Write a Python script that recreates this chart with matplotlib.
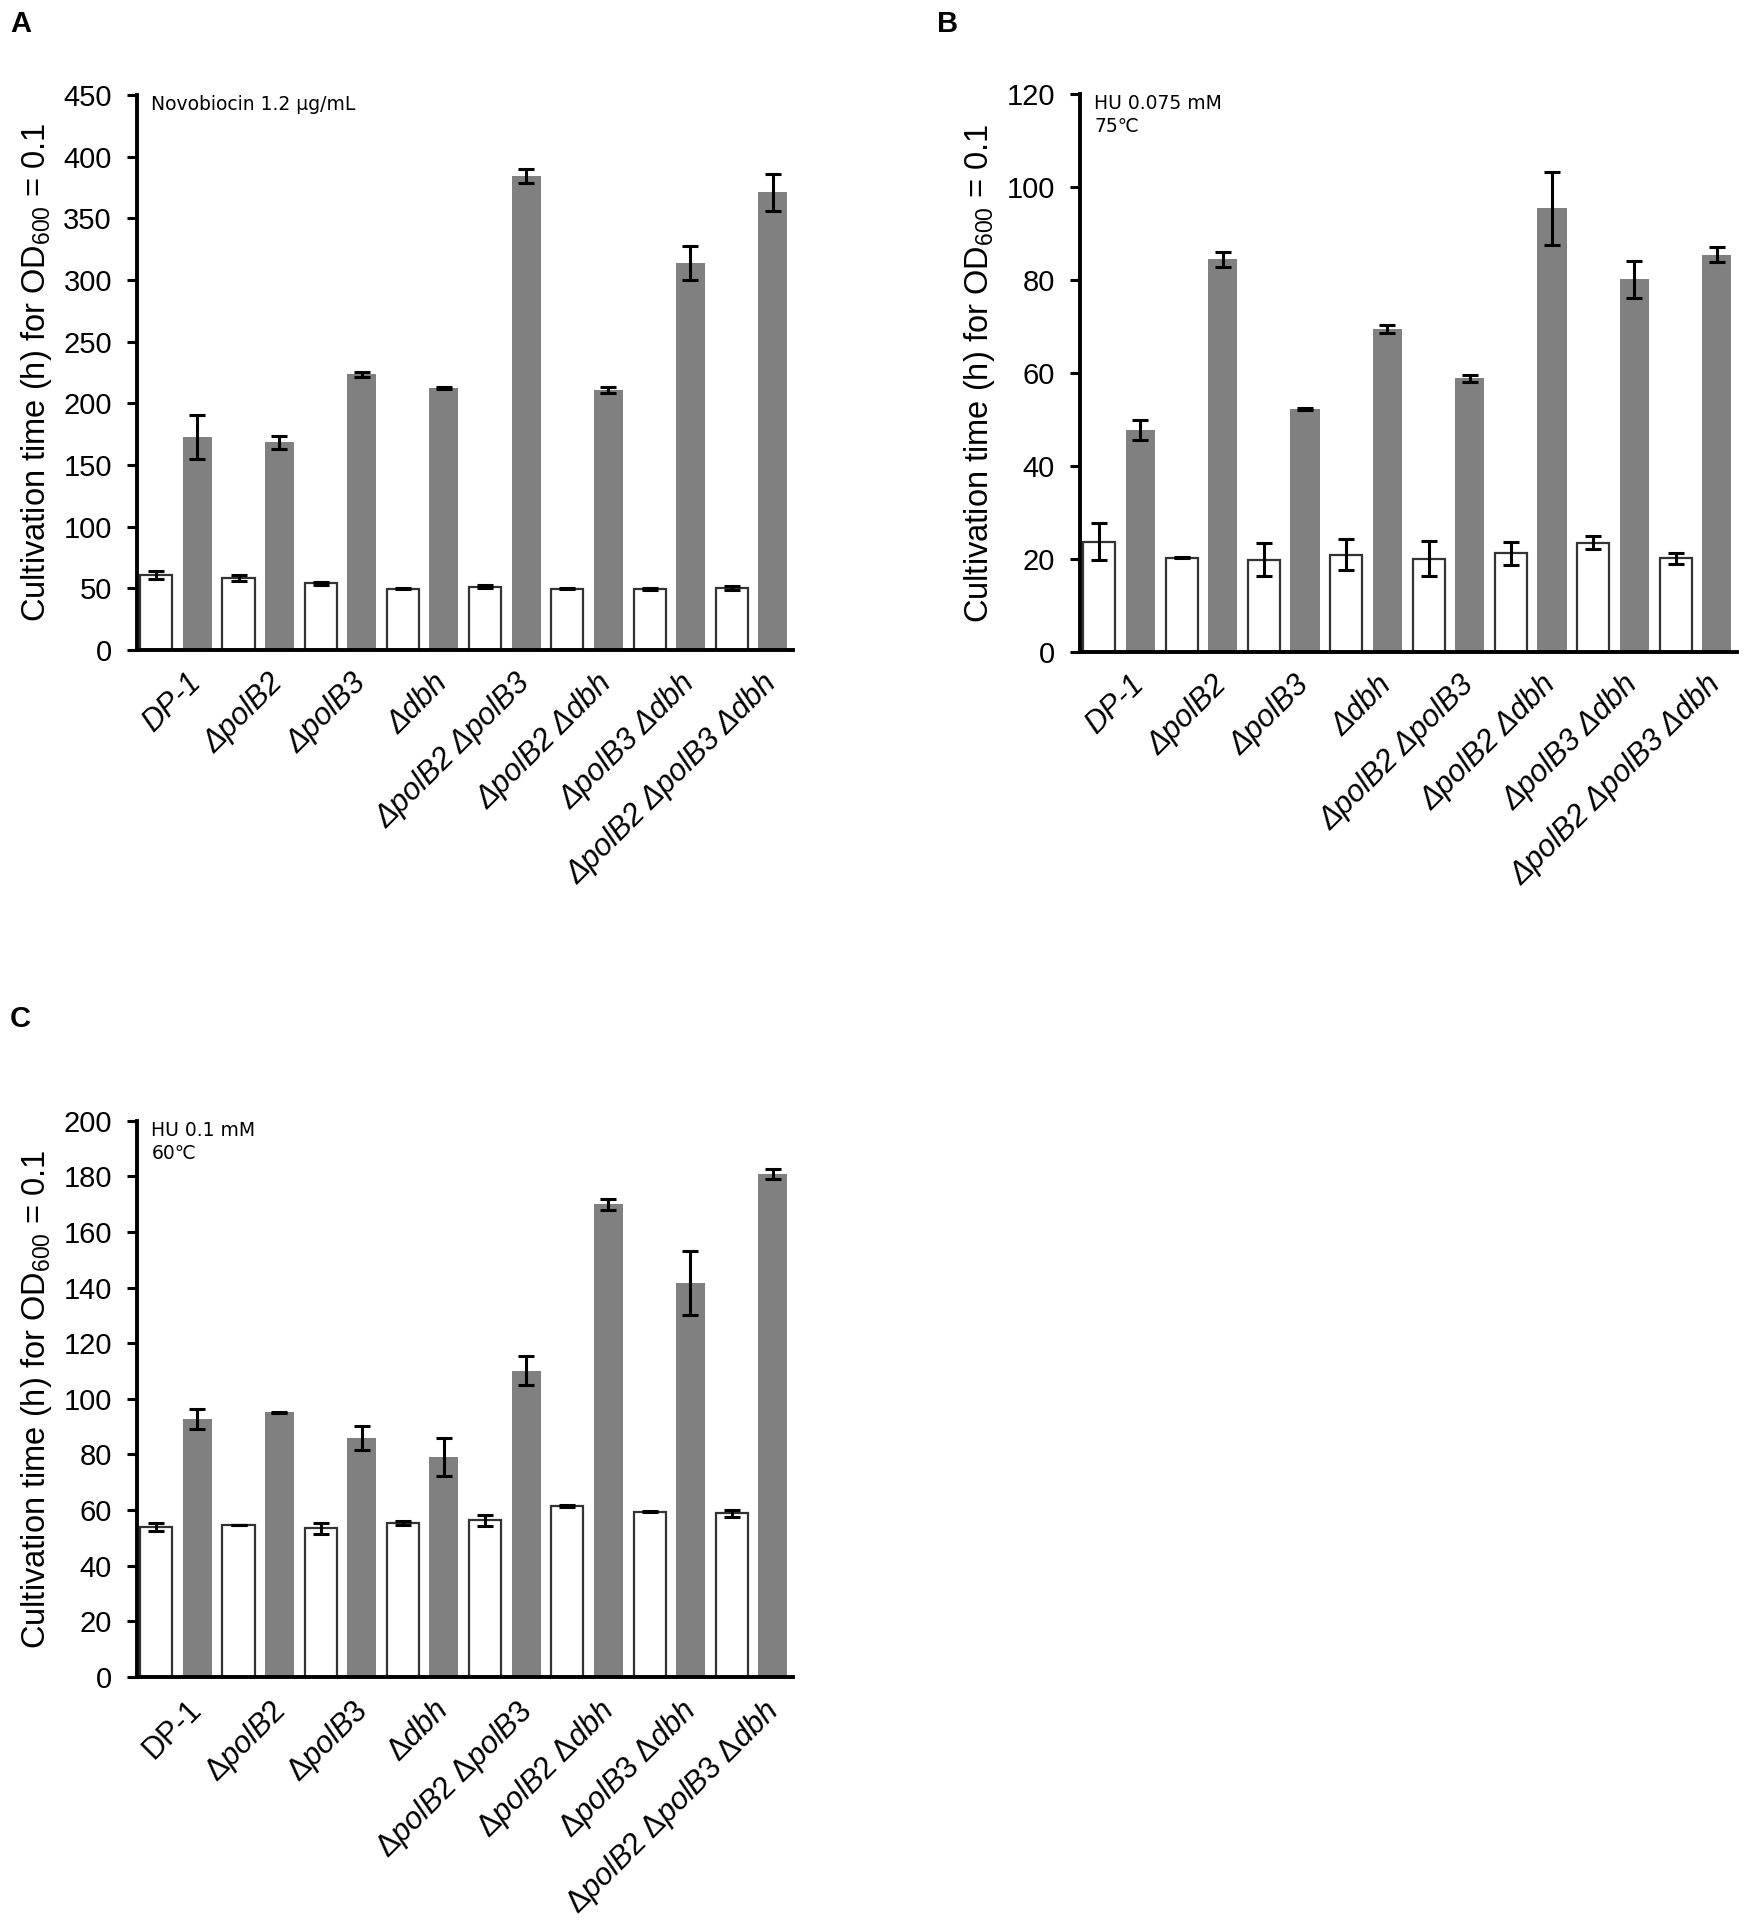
import matplotlib
matplotlib.use("Agg")
import matplotlib.pyplot as plt
from matplotlib import font_manager
import numpy as np

# ---------------- data ----------------
strains_plain = ["DP-1", "ΔpolB2", "ΔpolB3", "Δdbh", "ΔpolB2 ΔpolB3",
                 "ΔpolB2 Δdbh", "ΔpolB3 Δdbh", "ΔpolB2 ΔpolB3 Δdbh"]
strains_math = ["DP-1", r"Δ$\mathit{polB2}$", r"Δ$\mathit{polB3}$", r"Δ$\mathit{dbh}$",
                r"Δ$\mathit{polB2}$ Δ$\mathit{polB3}$", r"Δ$\mathit{polB2}$ Δ$\mathit{dbh}$",
                r"Δ$\mathit{polB3}$ Δ$\mathit{dbh}$",
                r"Δ$\mathit{polB2}$ Δ$\mathit{polB3}$ Δ$\mathit{dbh}$"]

# Panel A: Novobiocin 1.2 ug/mL
a_ctrl = [60.8, 58.7, 54.0, 49.6, 51.4, 49.6, 49.6, 50.3]
a_ctrl_err = [3.5, 2.5, 1.0, 0.5, 1.5, 0.4, 1.0, 1.5]
a_treat = [172.7, 168.4, 223.4, 212.5, 384.5, 211.0, 313.9, 371.1]
a_treat_err = [18.0, 5.5, 2.0, 1.0, 5.5, 2.5, 14.0, 15.0]

# Panel B: HU 0.075 mM, 75 C
b_ctrl = [23.7, 20.2, 19.8, 20.9, 20.0, 21.2, 23.4, 20.1]
b_ctrl_err = [4.0, 0.1, 3.5, 3.4, 3.8, 2.5, 1.4, 1.2]
b_treat = [47.7, 84.4, 52.2, 69.4, 58.8, 95.4, 80.1, 85.4]
b_treat_err = [2.2, 1.6, 0.3, 0.9, 0.8, 7.8, 4.0, 1.6]

# Panel C: HU 0.1 mM, 60 C
c_ctrl = [54.0, 54.6, 53.4, 55.5, 56.3, 61.6, 59.5, 58.9]
c_ctrl_err = [1.5, 0.1, 2.0, 0.7, 1.9, 0.4, 0.3, 1.3]
c_treat = [92.8, 95.1, 85.9, 79.1, 110.1, 170.0, 141.6, 180.8]
c_treat_err = [3.7, 0.2, 4.2, 6.9, 5.2, 2.0, 11.6, 1.8]

a_ticks = [0, 50, 100, 150, 200, 250, 300, 350, 400, 450]
b_ticks = [0, 20, 40, 60, 80, 100, 120]
c_ticks = [0, 20, 40, 60, 80, 100, 120, 140, 160, 180, 200]

# ---------------- style ----------------
available = {f.name for f in font_manager.fontManager.ttflist}
base_font = "Liberation Sans" if "Liberation Sans" in available else "DejaVu Sans"

plt.rcParams["font.family"] = [base_font, "DejaVu Sans"]
plt.rcParams["mathtext.fontset"] = "custom"
plt.rcParams["mathtext.rm"] = base_font
plt.rcParams["mathtext.it"] = base_font + ":italic"
plt.rcParams["mathtext.bf"] = base_font + ":bold"

GRAY = "#808080"
W, H = 1750, 1921
fig = plt.figure(figsize=(W / 100, H / 100), dpi=100)


def frac(left, top, right, bottom):
    return [left / W, (H - bottom) / H, (right - left) / W, (bottom - top) / H]


def panel(rect, ctrl, ctrl_err, treat, treat_err, ticks, note, italic_all):
    ax = fig.add_axes(rect)
    x = np.arange(len(ctrl))
    err_kw = dict(elinewidth=2.2, capthick=2.2, ecolor="black")
    ax.bar(x + 0.235, ctrl, width=0.39, color="white", edgecolor="#333333",
           linewidth=1.6, yerr=ctrl_err, capsize=6, error_kw=err_kw, zorder=2)
    ax.bar(x + 0.733, treat, width=0.353, color=GRAY, edgecolor="none",
           yerr=treat_err, capsize=6, error_kw=err_kw, zorder=2)
    ax.set_xlim(0, 7.98)
    ax.set_ylim(ticks[0], ticks[-1])
    ax.set_yticks(ticks)
    ax.set_yticklabels([str(t) for t in ticks], fontsize=21)
    ax.set_xticks(x + 0.6)
    if italic_all:
        ax.set_xticklabels(strains_plain, rotation=45, ha="right", va="top",
                           rotation_mode="anchor", fontsize=22, fontstyle="italic")
    else:
        ax.set_xticklabels(strains_math, rotation=45, ha="right", va="top",
                           rotation_mode="anchor", fontsize=22)
    ax.tick_params(axis="x", length=0, pad=13)
    ax.tick_params(axis="y", direction="out", length=7, width=2.2, pad=11)
    for s in ("top", "right"):
        ax.spines[s].set_visible(False)
    for s in ("left", "bottom"):
        ax.spines[s].set_linewidth(2.8)
    ax.set_ylabel("Cultivation time (h) for OD$_{600}$ = 0.1", fontsize=23.5, labelpad=7)
    ax.text(0.022, 1.0, note, transform=ax.transAxes, ha="left", va="top",
            fontsize=13.5, family="DejaVu Sans", linespacing=1.3)
    return ax


panel(frac(137, 95, 793, 650), a_ctrl, a_ctrl_err, a_treat, a_treat_err,
      a_ticks, "Novobiocin 1.2 μg/mL", True)
panel(frac(1080, 94, 1737, 651.7), b_ctrl, b_ctrl_err, b_treat, b_treat_err,
      b_ticks, "HU 0.075 mM\n75℃", True)
panel(frac(137, 1120.7, 793, 1677), c_ctrl, c_ctrl_err, c_treat, c_treat_err,
      c_ticks, "HU 0.1 mM\n60℃", False)

for lbl, px, py in [("A", 10, 10), ("B", 937, 10), ("C", 10, 1005)]:
    fig.text(px / W, 1 - py / H, lbl, fontsize=21, fontweight="bold",
             ha="left", va="top", family=base_font)

fig.savefig("out.png", dpi=100, facecolor="white")
